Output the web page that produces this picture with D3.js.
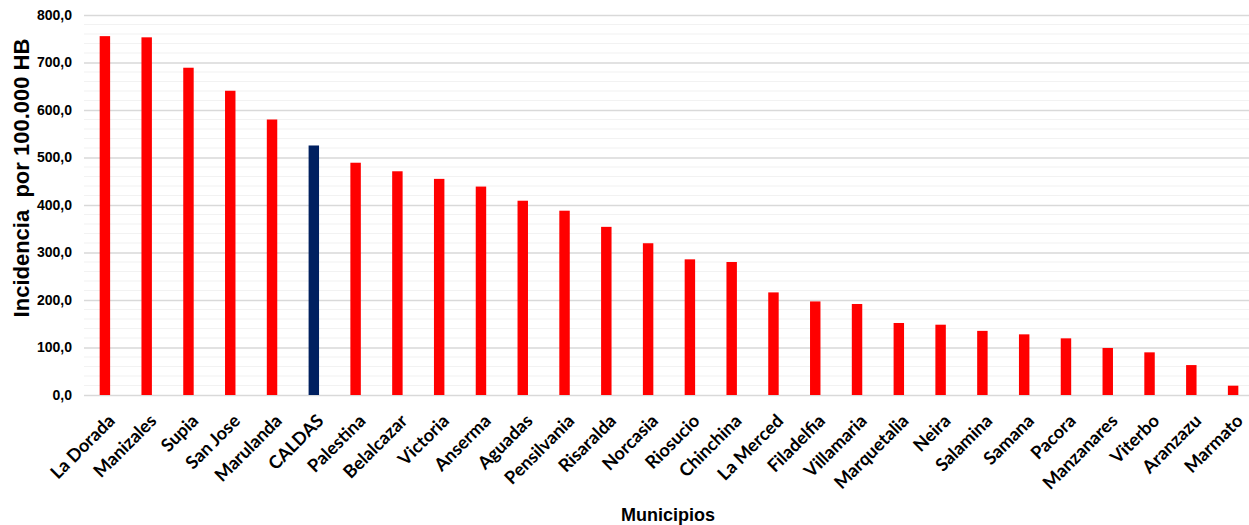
<!DOCTYPE html>
<html>
<head>
<meta charset="utf-8">
<script src="https://cdn.jsdelivr.net/npm/d3@7"></script>
<style>
  body { margin: 0; background: #fff; }
  svg { display: block; }
</style>
</head>
<body>
<div id="chart"></div>
<script>
// municipios y su incidencia por 100.000 habitantes
var municipios = ['La Dorada', 'Manizales', 'Supia', 'San Jose', 'Marulanda', 'CALDAS',
  'Palestina', 'Belalcazar', 'Victoria', 'Anserma', 'Aguadas', 'Pensilvania', 'Risaralda',
  'Norcasia', 'Riosucio', 'Chinchina', 'La Merced', 'Filadelfia', 'Villamaria', 'Marquetalia',
  'Neira', 'Salamina', 'Samana', 'Pacora', 'Manzanares', 'Viterbo', 'Aranzazu', 'Marmato'];
var incidencia = [755.5, 753, 689, 640.5, 580, 525.3,
  489, 471, 455, 438.8, 409, 388, 354,
  319.5, 285.6, 280, 216, 197, 191.6, 151.6,
  148, 135, 127.7, 119.3, 99, 89.8, 63, 19.6];
var yTicks = [0, 100, 200, 300, 400, 500, 600, 700, 800];
var resaltado = 'CALDAS';

var W = 1249, H = 525;
var margin = {top: 15, left: 84, bottom: 130};

var svg = d3.select('#chart').append('svg')
  .attr('width', W)
  .attr('height', H);

var x = d3.scaleBand()
  .domain(municipios)
  .range([margin.left, 1254])
  .paddingInner(0.75)
  .paddingOuter(0.375);

var y = d3.scaleLinear()
  .domain([0, 800])
  .range([H - margin.bottom, margin.top]);

var fmt = function(v) { return d3.format('.1f')(v).replace('.', ','); };

// minor grid every 20
svg.append('g')
  .selectAll('line')
  .data(d3.range(20, 800, 20).filter(function(v) { return v % 100 !== 0; }))
  .enter().append('line')
  .attr('x1', margin.left).attr('x2', W)
  .attr('y1', function(d) { return y(d); })
  .attr('y2', function(d) { return y(d); })
  .attr('stroke', '#f2f2f2')
  .attr('stroke-width', 1.2);

// major grid + labels
var yAxis = d3.axisLeft(y)
  .tickValues(yTicks)
  .tickFormat(fmt)
  .tickSize(-(W - margin.left))
  .tickPadding(12);

var gy = svg.append('g')
  .attr('transform', 'translate(' + margin.left + ',0)')
  .call(yAxis);
gy.select('.domain').remove();
gy.selectAll('.tick line')
  .attr('stroke', '#d9d9d9')
  .attr('stroke-width', 1.5);
gy.selectAll('.tick text')
  .attr('fill', '#000')
  .style('font-family', '"Liberation Sans", Arial, sans-serif')
  .style('font-weight', 'bold')
  .style('font-size', '14px');

// bars
svg.append('g')
  .selectAll('rect')
  .data(municipios)
  .enter().append('rect')
  .attr('x', function(d) { return x(d); })
  .attr('width', x.bandwidth())
  .attr('y', function(d, i) { return y(incidencia[i]); })
  .attr('height', function(d, i) { return y(0) - y(incidencia[i]); })
  .attr('fill', function(d) { return d === resaltado ? '#002060' : '#ff0000'; });

// x labels
svg.append('g')
  .selectAll('text')
  .data(municipios)
  .enter().append('text')
  .attr('transform', function(d) {
    return 'translate(' + (x(d) + x.bandwidth() / 2 + 11) + ',' + (y(0) + 27) + ') rotate(-45)';
  })
  .attr('text-anchor', 'end')
  .style('font-family', 'Lato, "Open Sans", sans-serif')
  .style('font-weight', 'bold')
  .style('font-size', '18px')
  .text(function(d) { return d; });

// axis titles
svg.append('text')
  .attr('x', 668)
  .attr('y', 521)
  .attr('text-anchor', 'middle')
  .style('font-family', '"Liberation Sans", Arial, sans-serif')
  .style('font-weight', 'bold')
  .style('font-size', '18px')
  .text('Municipios');

svg.append('text')
  .attr('transform', 'translate(29,178) rotate(-90)')
  .attr('text-anchor', 'middle')
  .style('font-family', '"Liberation Sans", Arial, sans-serif')
  .style('font-weight', 'bold')
  .style('font-size', '22px')
  .style('white-space', 'pre')
  .text('Incidencia  por 100.000 HB');
</script>
</body>
</html>
